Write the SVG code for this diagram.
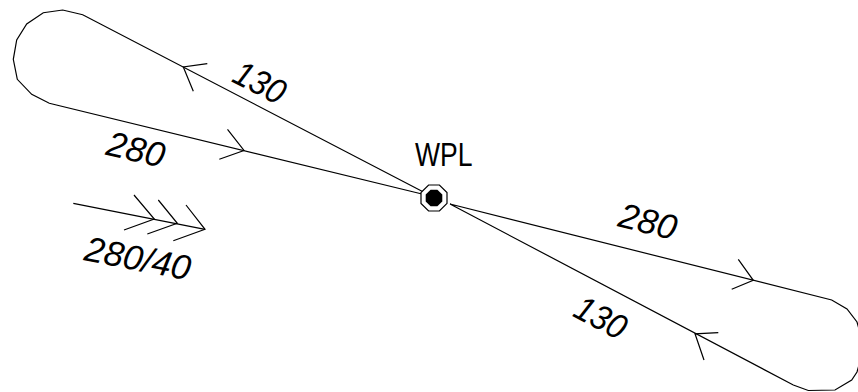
<svg xmlns="http://www.w3.org/2000/svg" width="858" height="392" viewBox="0 0 858 392">
<style>
.ln{fill:none;stroke:#000;stroke-width:1.2;stroke-linejoin:miter}
.lbl{font-family:"Liberation Sans",Arial,sans-serif;font-style:italic;font-size:35px;fill:#000;text-anchor:middle}
.wpl{font-family:"Liberation Sans",Arial,sans-serif;font-size:34px;fill:#000}
</style>
<rect width="858" height="392" fill="#fff"/>
<g id="connectors">
<polyline class="ln" points="422.5,191.5 82.7,14.7 62.7,10 43.3,12.7 26.7,24 16.7,40 13.3,59.3 17.3,79.3 31.7,94.3 49.3,103.3 422,194"/>
<polyline class="ln" points="450,204 831.7,300 847,309 857,322 862,340 861,358 857,372 851.7,380 835,390 808.3,390.5 793.3,385 450,204"/>
<polyline class="ln" points="207.3,63.7 183.3,66.9 193.3,91.2"/>
<polyline class="ln" points="227.5,129.3 244,150.5 219.3,159.3"/>
<polyline class="ln" points="738.3,259.3 753.3,280.3 731.7,289.3"/>
<polyline class="ln" points="718.3,332.7 695,333.8 704,360"/>
</g>
<g id="wind">
<line class="ln" x1="73.3" y1="203.3" x2="205" y2="229.3"/>
<polyline class="ln" points="134,195 154.3,219 124,230"/>
<polyline class="ln" points="158.3,200 177.3,223.3 147.3,234"/>
<polyline class="ln" points="186,205 205,229.3 173.3,240.7"/>
<text class="lbl" transform="translate(138,258) rotate(11)" y="12.5">280/40</text>
</g>
<g id="wpl">
<polygon points="447,203.4 439.4,211 428.6,211 421,203.4 421,192.6 428.6,185 439.4,185 447,192.6" fill="#fff" stroke="#000" stroke-width="1.2"/>
<polygon points="442.3,201.4 437.4,206.3 430.6,206.3 425.7,201.4 425.7,194.6 430.6,189.7 437.4,189.7 442.3,194.6" fill="#000"/>
<text class="wpl" transform="translate(415,166) scale(0.78,1)">WPL</text>
</g>
<g id="labels">
<text class="lbl" transform="translate(260,82) rotate(27) scale(0.92,1)" y="12.5">130</text>
<text class="lbl" transform="translate(136,149) rotate(13)" y="12.5">280</text>
<text class="lbl" transform="translate(648,221) rotate(14)" y="12.5">280</text>
<text class="lbl" transform="translate(601,317) rotate(28) scale(0.92,1)" y="12.5">130</text>
</g>
</svg>
